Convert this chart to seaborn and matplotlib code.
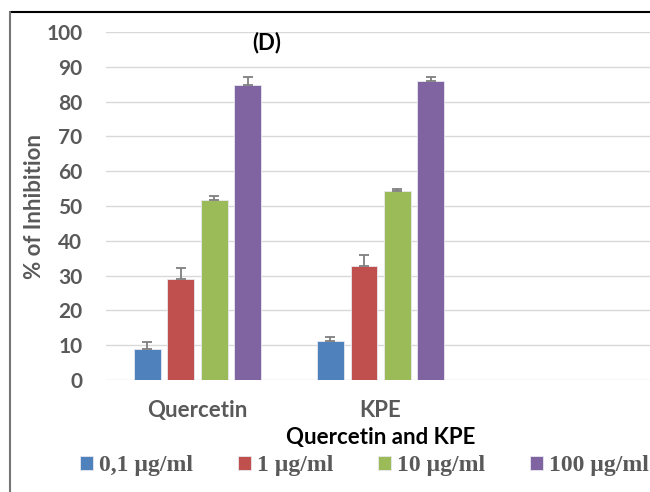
#!/usr/bin/env python3
import pandas as pd
import numpy as np
import matplotlib.pyplot as plt
import seaborn as sns
from matplotlib.lines import Line2D

samples = ["Quercetin", "KPE"]
doses = ["0,1 µg/ml", "1 µg/ml", "10 µg/ml", "100 µg/ml"]
# % inhibition, one list per dose (Quercetin, KPE)
inhib_01 = [8.9, 11.2]
inhib_1 = [29.0, 32.8]
inhib_10 = [51.7, 54.3]
inhib_100 = [84.8, 85.9]
# upper error bars
err_01 = [2.0, 1.2]
err_1 = [3.2, 3.1]
err_10 = [1.2, 0.6]
err_100 = [2.3, 1.2]
yticks = list(range(0, 101, 10))


def main():
    sns.set_style("white")
    plt.rcParams['font.family'] = ['Lato', 'DejaVu Sans']

    vals = [inhib_01, inhib_1, inhib_10, inhib_100]
    errs = [err_01, err_1, err_10, err_100]
    rows = []
    for d, v, e in zip(doses, vals, errs):
        for s, vv, ee in zip(samples, v, e):
            rows.append({"Sample": s, "Dose": d, "Inhibition": vv, "err": ee})
    df = pd.DataFrame(rows)

    colors = ["#4f81bd", "#c0504d", "#9bbb59", "#8064a2"]

    fig = plt.figure(figsize=(6.5, 4.92), dpi=100)
    ax = fig.add_axes([0.163, 0.2276, 0.845, 0.7073])

    sns.barplot(data=df, x="Sample", y="Inhibition", hue="Dose", order=samples,
                hue_order=doses, palette=colors, saturation=1, width=0.73, gap=0.2,
                edgecolor="#e8e8f0", linewidth=0.6, errorbar=None, ax=ax)

    # error bars on top of each bar (upper only)
    for cont, d in zip(ax.containers, doses):
        sub = df[df["Dose"] == d].set_index("Sample").loc[samples]
        xs = [p.get_x() + p.get_width() / 2 for p in cont.patches]
        ax.errorbar(xs, sub["Inhibition"], yerr=[np.zeros(len(xs)), sub["err"]],
                    fmt="none", ecolor="#7f7f7f", elinewidth=1.3, capsize=3.5,
                    capthick=1.3, zorder=3)

    ax.set_xlim(-0.5, 2.5)
    ax.set_ylim(0, 100)
    ax.set_xticks(range(len(samples)))
    ax.set_xticklabels(samples, fontweight="bold")
    ax.set_yticks(yticks)
    ax.set_yticklabels([str(v) for v in yticks], fontweight="bold")
    ax.yaxis.grid(True, color="#d9d9d9", linewidth=1)
    ax.set_axisbelow(True)
    sns.despine(ax=ax, left=True, bottom=True, top=True, right=True)
    ax.tick_params(axis="y", length=0, pad=17, labelsize=15, labelcolor="#595959")
    ax.tick_params(axis="x", length=0, pad=14.5, labelsize=16, labelcolor="#595959")

    ax.set_xlabel("Quercetin and KPE", fontsize=16, fontweight="bold",
                  color="black", labelpad=4)
    ax.set_ylabel("% of Inhibition", fontsize=16, fontweight="bold",
                  color="#595959", labelpad=1)
    ax.text(0.292, 0.97, "(D)", transform=ax.transAxes, ha="center", va="center",
            fontsize=16, fontweight="bold", color="black")

    handles, labels = ax.get_legend_handles_labels()
    ax.legend(handles, labels, loc="center", bbox_to_anchor=(0.561, 0.053),
              bbox_transform=fig.transFigure, ncol=4, frameon=False,
              handlelength=0.55, handleheight=0.55, handletextpad=0.25,
              columnspacing=1.9,
              prop={"family": "Liberation Serif", "weight": "bold", "size": 17},
              labelcolor="#595959")

    # chart frame edges visible in the reference crop
    fig.add_artist(Line2D([10 / 650, 1], [1 - 12 / 492, 1 - 12 / 492],
                          transform=fig.transFigure, color="black", linewidth=1.5))
    fig.add_artist(Line2D([10 / 650, 10 / 650], [0, 1 - 12 / 492],
                          transform=fig.transFigure, color="#767676", linewidth=1.5))

    fig.savefig("out.png", dpi=100)


if __name__ == "__main__":
    main()
